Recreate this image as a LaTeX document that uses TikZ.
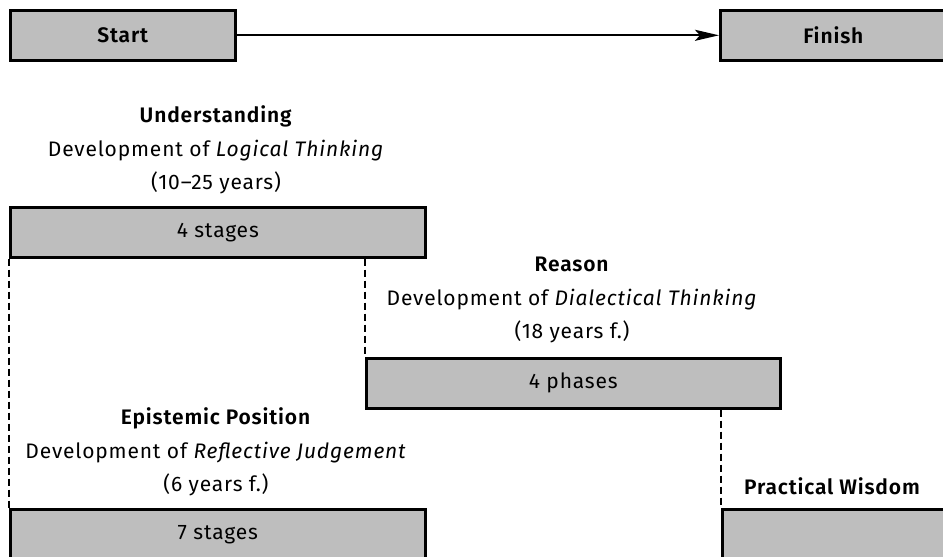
\documentclass[tikz,border=0pt]{standalone}
\usepackage{fontspec}
\setmainfont{Fira Sans}[LetterSpace=4, BoldFont={Fira Sans SemiBold}, BoldItalicFont={Fira Sans SemiBold Italic}]
\usetikzlibrary{arrows.meta}
\definecolor{boxgray}{RGB}{190,190,190}
\tikzset{
  txt/.style={font=\fontsize{21}{33.5}\selectfont},
  bar/.style={draw=black, fill=boxgray, line width=2.6pt, rectangle, minimum height=50pt, inner sep=0pt, anchor=north west, txt},
  lbl/.style={align=center, inner sep=0pt, txt},
  conn/.style={line width=2.5pt, dash pattern=on 7pt off 4pt},
  arr/.style={line width=2.3pt, -{Stealth[length=24pt,width=11pt,inset=5pt]}}
}
\begin{document}
\begin{tikzpicture}[x=1pt,y=-1pt]
\useasboundingbox (0,0) rectangle (943,557);
\clip (0,0) rectangle (943,557);
\node[bar, minimum width=225pt, font=\fontsize{21}{24}\selectfont\bfseries] (start) at (9,9) {Start};
\node[bar, minimum width=226pt, font=\fontsize{21}{24}\selectfont\bfseries] (finish) at (719,9) {Finish};
\draw[arr] (start.east) -- (finish.west);

\node[lbl] (ulab) at (216,150) {\textbf{Understanding}\\Development of \textit{Logical Thinking}\\(10--25 years)};
\node[bar, minimum width=415pt] (st4) at (9,206) {4 stages};

\node[lbl] (rlab) at (572,300) {\textbf{Reason}\\Development of \textit{Dialectical Thinking}\\(18 years f.)};
\node[bar, minimum width=414pt] (ph4) at (365,357) {4 phases};

\node[lbl] (elab) at (216,452) {\textbf{Epistemic Position}\\Development of \textit{Reflective Judgement}\\(6 years f.)};
\node[bar, minimum width=415pt] (st7) at (9,508) {7 stages};

\node[bar, minimum width=226pt] (pw) at (721,508) {};
\node[lbl, font=\fontsize{21}{24}\selectfont\bfseries] (pwlab) at (832,486) {Practical Wisdom};

\draw[conn] (st4.south west) -- (st7.north west);
\draw[conn] (st4.south -| ph4.north west) -- (ph4.north west);
\draw[conn] (ph4.south -| pw.north west) -- (pw.north west);
\end{tikzpicture}
\end{document}
